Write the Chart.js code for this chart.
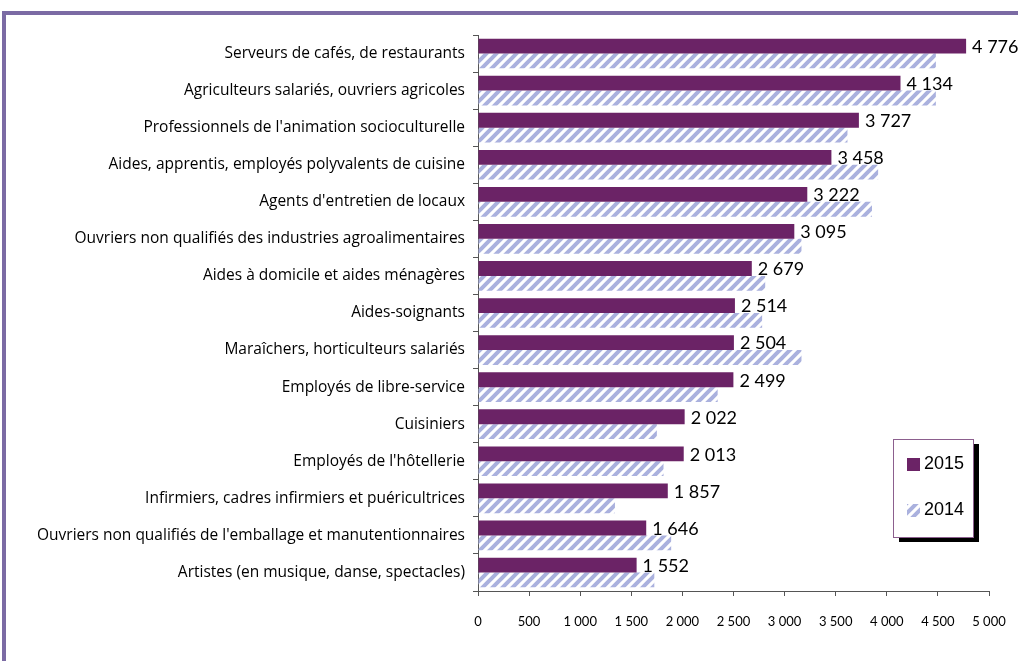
<!DOCTYPE html>
<html>
<head>
<meta charset="utf-8">
<script src="https://cdn.jsdelivr.net/npm/chart.js@4"></script>
<style>
  html, body { margin: 0; padding: 0; background: #fff; }
  #wrap { width: 1018px; height: 661px; position: relative; }
</style>
</head>
<body>
<div id="wrap"><canvas id="chart" width="1018" height="661"></canvas></div>
<script>
const categories = [
    'Serveurs de cafés, de restaurants',
    'Agriculteurs salariés, ouvriers agricoles',
    "Professionnels de l'animation socioculturelle",
    'Aides, apprentis, employés polyvalents de cuisine',
    "Agents d'entretien de locaux",
    'Ouvriers non qualifiés des industries agroalimentaires',
    'Aides à domicile et aides ménagères',
    'Aides-soignants',
    'Maraîchers, horticulteurs salariés',
    'Employés de libre-service',
    'Cuisiniers',
    "Employés de l'hôtellerie",
    'Infirmiers, cadres infirmiers et puéricultrices',
    "Ouvriers non qualifiés de l'emballage et manutentionnaires",
    'Artistes (en musique, danse, spectacles)'
];
const values2015 = [4776, 4134, 3727, 3458, 3222, 3095, 2679, 2514, 2504, 2499, 2022, 2013, 1857, 1646, 1552];
const values2014 = [4480, 4480, 3615, 3915, 3855, 3165, 2810, 2780, 3165, 2345, 1750, 1815, 1340, 1890, 1725];
const seriesLabels = ['2015', '2014'];

// 4776 -> "4 776"
function fmt(v) {
    return String(v).replace(/\B(?=(\d{3})+(?!\d))/g, ' ');
}

// diagonal hatch used by the 2014 bars
function makeHatch() {
    const c = document.createElement('canvas');
    c.width = 10; c.height = 10;
    const g = c.getContext('2d');
    g.strokeStyle = '#aab1de';
    g.lineWidth = 4;
    g.beginPath();
    g.moveTo(-5, 5); g.lineTo(5, -5);
    g.moveTo(0, 10); g.lineTo(10, 0);
    g.moveTo(5, 15); g.lineTo(15, 5);
    g.stroke();
    return g.createPattern(c, 'repeat');
}
const hatch = makeHatch();
const purple = '#6b2366';

const framePlugin = {
    id: 'frame',
    beforeDraw(chart) {
        const ctx = chart.ctx;
        ctx.save();
        ctx.fillStyle = '#fff';
        ctx.fillRect(0, 0, chart.width, chart.height);
        ctx.fillStyle = '#7b6ba4';
        ctx.fillRect(2, 11, chart.width - 2, 4);
        ctx.fillRect(2, 11, 4, chart.height - 11);
        ctx.restore();
    }
};

const labelPlugin = {
    id: 'valueLabels',
    afterDatasetsDraw(chart) {
        const ctx = chart.ctx;
        const meta = chart.getDatasetMeta(0);
        ctx.save();
        ctx.font = '18px Lato, "Open Sans", sans-serif';
        ctx.fillStyle = '#000';
        ctx.textAlign = 'left';
        ctx.textBaseline = 'middle';
        meta.data.forEach((bar, i) => {
            ctx.fillText(fmt(values2015[i]), bar.x + 6, bar.y + 1);
        });
        ctx.restore();
    }
};

const legendPlugin = {
    id: 'boxLegend',
    afterDraw(chart) {
        const ctx = chart.ctx;
        const x = 893, y = 439, w = 80, h = 98;
        ctx.save();
        ctx.fillStyle = '#000';
        ctx.fillRect(x + 6, y + 5, w, h);
        ctx.fillStyle = '#fff';
        ctx.fillRect(x, y, w, h);
        ctx.strokeStyle = '#8c5f8e';
        ctx.lineWidth = 1;
        ctx.strokeRect(x + 0.5, y + 0.5, w, h);
        const fills = [purple, hatch];
        const rows = [464, 510];
        ctx.font = '18px "Liberation Sans", Arial, sans-serif';
        ctx.textBaseline = 'middle';
        ctx.textAlign = 'left';
        seriesLabels.forEach((lab, i) => {
            ctx.fillStyle = fills[i];
            ctx.fillRect(907, rows[i] - 6, 13, 13);
            ctx.fillStyle = '#000';
            ctx.fillText(lab, 924, rows[i]);
        });
        ctx.restore();
    }
};

new Chart(document.getElementById('chart'), {
    type: 'bar',
    data: {
        labels: categories,
        datasets: [
            { label: seriesLabels[0], data: values2015, backgroundColor: purple,
              categoryPercentage: 0.8, barPercentage: 1.0 },
            { label: seriesLabels[1], data: values2014, backgroundColor: hatch,
              categoryPercentage: 0.8, barPercentage: 1.0 }
        ]
    },
    options: {
        indexAxis: 'y',
        responsive: false,
        animation: false,
        layout: { padding: { left: 8, right: 29, top: 35, bottom: 0 } },
        plugins: { legend: { display: false }, tooltip: { enabled: false } },
        scales: {
            x: {
                min: 0, max: 5000,
                afterFit(s) { s.height = 70; s.paddingRight = 0; s.paddingLeft = 0; },
                ticks: {
                    stepSize: 500,
                    color: '#000',
                    padding: 18,
                    maxRotation: 0,
                    font: { family: 'Lato, "Open Sans", sans-serif', size: 13 },
                    callback: v => fmt(v)
                },
                grid: { drawOnChartArea: false, tickLength: 5, color: '#555' },
                border: { color: '#555' }
            },
            y: {
                afterFit(s) { s.width = 470; },
                ticks: {
                    color: '#000',
                    padding: 8,
                    autoSkip: false,
                    font: { family: '"Open Sans", sans-serif', size: 15.5 }
                },
                grid: { drawOnChartArea: false, tickLength: 5, color: '#555' },
                border: { color: '#555' }
            }
        }
    },
    plugins: [framePlugin, labelPlugin, legendPlugin]
});
</script>
</body>
</html>
